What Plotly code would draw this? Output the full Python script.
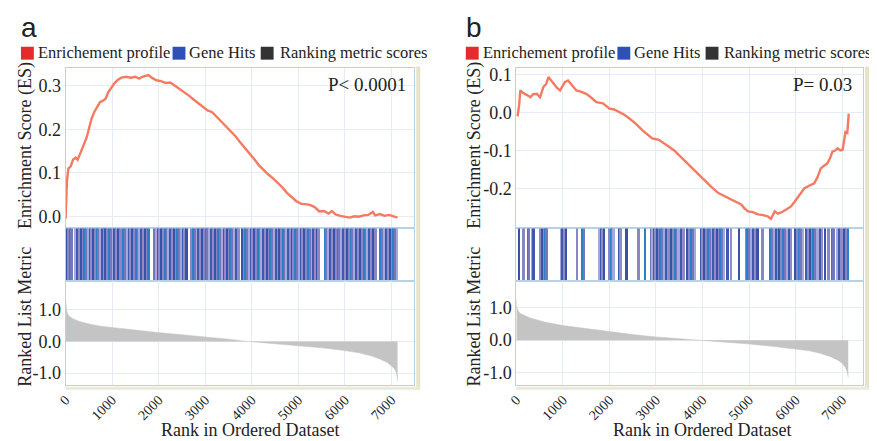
import plotly.graph_objects as go

# reference canvas is 877x441; the page body adds an 8px margin, so the figure is offset by it
REF_W, REF_H = 877, 441
PAD = 8
W, H = REF_W - PAD, REF_H - PAD

# ---------------- data ----------------
ranks_ticks = [0, 1000, 2000, 3000, 4000, 5000, 6000, 7000]
tick_labels = ["0", "1000", "2000", "3000", "4000", "5000", "6000", "7000"]

# Panel a: enrichment profile
es_a_rank = [0, 15, 30, 60, 110, 160, 220, 260, 300, 350, 400, 450, 500, 560, 620, 680, 740, 800,
             860, 920, 980, 1050, 1120, 1200, 1300, 1400, 1500, 1580, 1650, 1720, 1780, 1850, 1950,
             2050, 2150, 2250, 2350, 2450, 2550, 2650, 2750, 2850, 2950, 3050, 3150, 3250, 3350,
             3450, 3550, 3650, 3750, 3850, 3950, 4050, 4150, 4250, 4350, 4450, 4550, 4650, 4750,
             4850, 4950, 5050, 5150, 5250, 5350, 5450, 5550, 5650, 5720, 5800, 5900, 6000, 6100,
             6200, 6300, 6400, 6500, 6600, 6650, 6750, 6850, 6950, 7050, 7130]
es_a_val = [-0.005, 0.04, 0.08, 0.11, 0.115, 0.13, 0.135, 0.13, 0.14, 0.155, 0.165, 0.18, 0.2, 0.225,
            0.24, 0.25, 0.262, 0.265, 0.27, 0.285, 0.295, 0.305, 0.313, 0.318, 0.32, 0.318, 0.32,
            0.316, 0.32, 0.322, 0.324, 0.318, 0.312, 0.31, 0.306, 0.307, 0.3, 0.292, 0.285, 0.277,
            0.268, 0.259, 0.25, 0.243, 0.239, 0.228, 0.217, 0.206, 0.196, 0.184, 0.17, 0.158, 0.145,
            0.132, 0.118, 0.107, 0.097, 0.088, 0.078, 0.068, 0.055, 0.045, 0.036, 0.03, 0.029,
            0.027, 0.022, 0.012, 0.013, 0.007, 0.013, 0.005, 0.002, 0.0, -0.002, 0.001, 0.0, 0.003,
            0.004, 0.011, 0.003, 0.006, 0.002, 0.004, 0.0, -0.002]

# Panel b: enrichment profile
es_b_rank = [0, 30, 60, 85, 140, 190, 240, 300, 360, 440, 480, 510, 580, 640, 690, 740, 800, 870,
             940, 990, 1040, 1110, 1200, 1290, 1400, 1500, 1600, 1720, 1860, 2000, 2100, 2210, 2320,
             2430, 2570, 2710, 2820, 2920, 3060, 3170, 3280, 3390, 3490, 3630, 3770, 3920, 4060,
             4200, 4340, 4480, 4620, 4730, 4830, 4900, 4980, 5080, 5190, 5300, 5400, 5470, 5550,
             5620, 5690, 5800, 5900, 5970, 6040, 6120, 6190, 6300, 6400, 6470, 6540, 6610, 6680,
             6740, 6790, 6850, 6900, 6960, 7010, 7040, 7070, 7110, 7125, 7140]
es_b_val = [-0.005, -0.007, 0.02, 0.058, 0.052, 0.049, 0.045, 0.04, 0.048, 0.049, 0.043, 0.04, 0.067,
            0.075, 0.093, 0.085, 0.075, 0.065, 0.058, 0.07, 0.08, 0.084, 0.07, 0.058, 0.054, 0.049,
            0.04, 0.027, 0.024, 0.01, 0.008, 0.001, -0.006, -0.016, -0.03, -0.047, -0.058, -0.068,
            -0.072, -0.08, -0.09, -0.1, -0.112, -0.13, -0.147, -0.165, -0.181, -0.197, -0.212,
            -0.22, -0.229, -0.236, -0.242, -0.252, -0.26, -0.262, -0.268, -0.27, -0.273, -0.28,
            -0.26, -0.266, -0.263, -0.255, -0.247, -0.236, -0.225, -0.21, -0.199, -0.192, -0.186,
            -0.17, -0.147, -0.14, -0.134, -0.12, -0.103, -0.1, -0.094, -0.1, -0.098, -0.075, -0.051,
            -0.054, -0.03, -0.003]

# Gene hits (rank positions)
hits_a = [5, 40, 85, 120, 210, 250, 290, 330, 365, 400, 440, 480, 515, 550, 590, 630, 665, 700, 740,
          780, 820, 855, 890, 930, 970, 1010, 1045, 1080, 1120, 1165, 1240, 1280, 1320, 1355, 1390,
          1430, 1470, 1510, 1545, 1580, 1620, 1660, 1700, 1740, 1775, 1900, 1940, 1975, 2010, 2050,
          2090, 2130, 2170, 2205, 2240, 2280, 2320, 2360, 2400, 2435, 2470, 2510, 2550, 2590, 2700,
          2740, 2780, 2815, 2850, 2890, 2930, 2970, 3010, 3045, 3080, 3120, 3160, 3200, 3240, 3275,
          3310, 3350, 3390, 3430, 3470, 3505, 3540, 3580, 3620, 3660, 3700, 3780, 3820, 3860, 3900,
          3935, 3970, 4010, 4050, 4090, 4130, 4165, 4200, 4240, 4280, 4320, 4360, 4395, 4430, 4470,
          4510, 4550, 4590, 4625, 4660, 4700, 4740, 4780, 4820, 4855, 4890, 4930, 4970, 5010, 5050,
          5085, 5120, 5160, 5200, 5240, 5280, 5315, 5350, 5390, 5430, 5560, 5600, 5640, 5680, 5720,
          5760, 5800, 5840, 5880, 5920, 5960, 6000, 6040, 6080, 6120, 6160, 6200, 6240, 6280, 6320,
          6360, 6400, 6440, 6480, 6520, 6560, 6600, 6640, 6760, 6800, 6840, 6880, 6920, 6960, 7000,
          7040, 7080, 7110]
hits_b = [70, 170, 260, 280, 360, 380, 530, 570, 610, 640, 660, 980, 1000, 1030, 1080, 1320, 1430,
          1470, 1800, 1830, 1850, 1890, 2000, 2040, 2070, 2100, 2230, 2250, 2380, 2640, 2770, 2900,
          2930, 2970, 3000, 3040, 3080, 3110, 3150, 3190, 3230, 3280, 3340, 3380, 3420, 3460, 3500,
          3550, 3600, 3680, 3720, 3770, 3820, 3850, 3980, 4010, 4050, 4090, 4130, 4170, 4210, 4250,
          4290, 4330, 4370, 4400, 4440, 4480, 4550, 4620, 4790, 4940, 4980, 5020, 5060, 5100, 5150,
          5190, 5300, 5470, 5510, 5550, 5590, 5630, 5670, 5710, 5750, 5790, 5830, 5870, 5910, 6000,
          6040, 6080, 6120, 6170, 6230, 6280, 6320, 6360, 6400, 6440, 6480, 6530, 6580, 6640, 6720,
          6790, 6830, 6910, 6940, 7000, 7060, 7100, 7140]

# Ranked list metric
metric_a_rank = [0, 10, 30, 70, 175, 300, 530, 750, 990, 1500, 1980, 2500, 3010, 3500, 3900, 4500,
                 5000, 5500, 5990, 6300, 6560, 6750, 6910, 7000, 7060, 7090, 7110, 7125, 7130]
metric_a_val = [1.3, 1.08, 0.92, 0.8, 0.7, 0.63, 0.54, 0.48, 0.44, 0.35, 0.28, 0.21, 0.15, 0.07, 0.0,
                -0.07, -0.13, -0.2, -0.29, -0.36, -0.45, -0.55, -0.66, -0.76, -0.85, -0.92, -1.02,
                -1.18, -1.26]
metric_b_rank = [0, 10, 40, 85, 300, 600, 1000, 1500, 2000, 2500, 3000, 3500, 4000, 4500, 5010, 5500,
                 6000, 6300, 6540, 6750, 6900, 7000, 7070, 7110, 7130]
metric_b_val = [1.25, 1.02, 0.9, 0.82, 0.68, 0.56, 0.45, 0.35, 0.26, 0.17, 0.1, 0.05, 0.0, -0.06,
                -0.12, -0.19, -0.27, -0.33, -0.41, -0.51, -0.61, -0.71, -0.84, -0.98, -1.15]

p_texts = ["P< 0.0001", "P= 0.03"]
panel_letters = ["a", "b"]
legend_labels = ["Enrichement profile", "Gene Hits", "Ranking metric scores"]

# ---------------- style ----------------
SERIF = "Liberation Serif"
SANS = "Liberation Sans"
TXT = "#222222"
ES_COLOR = "#f47a60"
GRID = "#e4edf6"
FRAME = "#b7d2e5"
HIT_COLORS = ["#3a52a6", "#8a86c6", "#2c7fc6", "#7576bb", "#a3aadb", "#4058ad", "#8f8cc8"]


def px_x(p):
    return (p - PAD) / W


def px_y(p):
    return 1 - (p - PAD) / H


fig = go.Figure()

panels = [
    dict(x0=58, x1=410, es=(es_a_rank, es_a_val), hits=hits_a, met=(metric_a_rank, metric_a_val),
         es_rng=[-0.027, 0.341], es_ticks=[0, 0.1, 0.2, 0.3], met_rng=[-1.384, 1.897],
         xr=[0, 7490], hit_w=58),
    dict(x0=513, x1=863, es=(es_b_rank, es_b_val), hits=hits_b, met=(metric_b_rank, metric_b_val),
         es_rng=[-0.305, 0.118], es_ticks=[-0.2, -0.1, 0, 0.1], met_rng=[-1.394, 1.818],
         xr=[0, 7450], hit_w=40),
]

Y_ES = (65, 227)
Y_HIT = (227, 280)
Y_MET = (280, 385)

layout = dict(
    width=W, height=H, margin=dict(l=0, r=0, t=0, b=0),
    paper_bgcolor="white", plot_bgcolor="white", showlegend=False,
    font=dict(family=SERIF, color=TXT, size=18),
    bargap=0,
)

annotations = []
shapes = []

for i, P in enumerate(panels):
    base = 3 * i
    ax_es, ax_hit, ax_met = base + 1, base + 2, base + 3
    dom = [px_x(P["x0"]), px_x(P["x1"])]

    def nm(k, letter):
        return letter + ("" if k == 1 else str(k))

    # ES curve
    fig.add_trace(go.Scatter(x=P["es"][0], y=P["es"][1], mode="lines",
                             line=dict(color=ES_COLOR, width=2.4),
                             xaxis=nm(ax_es, "x"), yaxis=nm(ax_es, "y")))
    # Gene hits as thin bars
    n = len(P["hits"])
    fig.add_trace(go.Bar(x=P["hits"], y=[1] * n, width=[P["hit_w"]] * n,
                         marker=dict(color=[HIT_COLORS[k % len(HIT_COLORS)] for k in range(n)],
                                     line=dict(width=0)),
                         xaxis=nm(ax_hit, "x"), yaxis=nm(ax_hit, "y")))
    # Ranked metric
    fig.add_trace(go.Scatter(x=P["met"][0], y=P["met"][1], mode="lines", fill="tozeroy",
                             line=dict(color="#c2c2c2", width=0.5), fillcolor="#c4c4c4",
                             xaxis=nm(ax_met, "x"), yaxis=nm(ax_met, "y")))

    common_x = dict(domain=dom, range=P["xr"], tickvals=ranks_ticks, showgrid=True, gridcolor=GRID,
                    zeroline=False, showline=True, mirror=True, linecolor=FRAME, linewidth=1,
                    ticks="")
    layout["xaxis" + ("" if ax_es == 1 else str(ax_es))] = dict(common_x, showticklabels=False,
                                                                 anchor=nm(ax_es, "y"))
    layout["xaxis" + str(ax_hit)] = dict(common_x, showticklabels=False, showgrid=False,
                                         anchor=nm(ax_hit, "y"))
    layout["xaxis" + str(ax_met)] = dict(common_x, showticklabels=True, ticktext=tick_labels,
                                         tickangle=-45, tickfont=dict(size=14, family=SERIF),
                                         anchor=nm(ax_met, "y"))

    layout["yaxis" + ("" if ax_es == 1 else str(ax_es))] = dict(
        domain=[px_y(Y_ES[1]), px_y(Y_ES[0])], range=P["es_rng"], tickvals=P["es_ticks"],
        ticktext=["%.1f" % v for v in P["es_ticks"]], showgrid=True, gridcolor=GRID, zeroline=False,
        showline=True, mirror=True, linecolor=FRAME, ticks="", tickfont=dict(size=18),
        anchor=nm(ax_es, "x"))
    layout["yaxis" + str(ax_hit)] = dict(
        domain=[px_y(Y_HIT[1]), px_y(Y_HIT[0])], range=[0, 1], showticklabels=False, showgrid=False,
        zeroline=False, showline=True, mirror=True, linecolor=FRAME, ticks="",
        anchor=nm(ax_hit, "x"))
    layout["yaxis" + str(ax_met)] = dict(
        domain=[px_y(Y_MET[1]), px_y(Y_MET[0])], range=P["met_rng"], tickvals=[-1, 0, 1],
        ticktext=["-1.0", "0.0", "1.0"], showgrid=True, gridcolor=GRID, zeroline=False,
        showline=True, mirror=True, linecolor=FRAME, ticks="", tickfont=dict(size=18),
        anchor=nm(ax_met, "x"))

    off = 0 if i == 0 else 449
    # panel letter (box top kept inside the figure)
    annotations.append(dict(text=panel_letters[i], x=px_x(12 + off), y=1.0, xref="paper",
                            yref="paper", xanchor="left", yanchor="top", showarrow=False,
                            borderpad=0, font=dict(family=SANS, size=28, color=TXT)))
    # legend
    sq = [(13, "#e52b2b"), (166, "#2f50b6"), (255, "#333333")]
    tx = [28, 181, 272]
    for (sx, col), t, lab in zip(sq, tx, legend_labels):
        shapes.append(dict(type="rect", xref="paper", yref="paper",
                           x0=px_x(sx + off), x1=px_x(sx + off + 13), y0=px_y(57), y1=px_y(44),
                           fillcolor=col, line=dict(width=0)))
        annotations.append(dict(text=lab, x=px_x(t + off), y=px_y(50), xref="paper", yref="paper",
                                xanchor="left", yanchor="middle", showarrow=False,
                                font=dict(size=16.5, family=SERIF, color=TXT)))
    # p value
    annotations.append(dict(text=p_texts[i], x=px_x(404 if i == 0 else 854), y=px_y(82),
                            xref="paper", yref="paper", xanchor="right", yanchor="middle",
                            showarrow=False, font=dict(size=19, family=SERIF, color=TXT)))
    # axis titles
    tx_y = 17 if i == 0 else 470
    annotations.append(dict(text="Enrichment Score (ES)", x=px_x(tx_y), y=px_y(143), xref="paper",
                            yref="paper", textangle=-90, showarrow=False, xanchor="center",
                            yanchor="middle", font=dict(size=18, family=SERIF, color=TXT)))
    annotations.append(dict(text="Ranked List Metric", x=px_x(tx_y), y=px_y(316), xref="paper",
                            yref="paper", textangle=-90, showarrow=False, xanchor="center",
                            yanchor="middle", font=dict(size=18, family=SERIF, color=TXT)))
    annotations.append(dict(text="Rank in Ordered Dataset", x=px_x(244 if i == 0 else 700),
                            y=px_y(430), xref="paper", yref="paper", showarrow=False,
                            xanchor="center", yanchor="middle",
                            font=dict(size=18, family=SERIF, color=TXT)))
    # beige outer border (right and bottom)
    shapes.append(dict(type="line", xref="paper", yref="paper", x0=px_x(P["x1"] + 4),
                       x1=px_x(P["x1"] + 4), y0=px_y(64), y1=px_y(389),
                       line=dict(color="#e7e3c9", width=4)))
    shapes.append(dict(type="line", xref="paper", yref="paper", x0=px_x(P["x0"]),
                       x1=px_x(P["x1"] + 6), y0=px_y(388), y1=px_y(388),
                       line=dict(color="#ece9d4", width=3)))

layout["annotations"] = annotations
layout["shapes"] = shapes
fig.update_layout(**layout)

fig.write_html("out.html")
